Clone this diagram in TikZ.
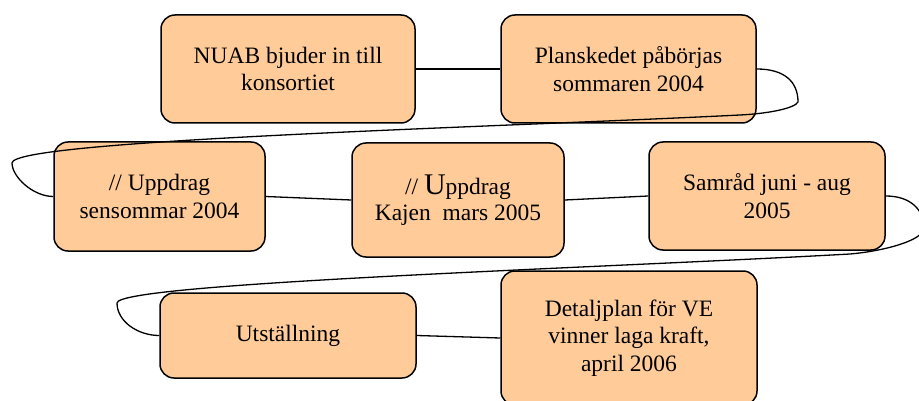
\documentclass[tikz,border=0pt]{standalone}
\usepackage{fontspec}
\setmainfont{Liberation Serif}
\definecolor{peach}{HTML}{FFCC99}
\tikzset{
  stepbox/.style={draw=black, line width=1.5pt, fill=peach, rounded corners=14pt,
    inner sep=0pt, align=center, font=\fontsize{23.5}{27.5}\selectfont},
  conn/.style={draw=black, line width=1.3pt}
}
\begin{document}
\begin{tikzpicture}[x=1pt,y=-1pt]
\useasboundingbox (0,0) rectangle (919,401);
\node[stepbox, minimum width=254pt, minimum height=108pt] (b1) at (288,69) {NUAB bjuder in till\\konsortiet};
\node[stepbox, minimum width=255pt, minimum height=108pt] (b2) at (628.5,69) {Planskedet påbörjas\\sommaren 2004};
\node[stepbox, minimum width=211pt, minimum height=109pt] (b3) at (159.5,196.5) {// Uppdrag\\sensommar 2004};
\node[stepbox, minimum width=212pt, minimum height=114pt] (b4) at (458,200) {// {\fontsize{30}{30}\selectfont U}ppdrag\\[-2pt]Kajen\ \ mars 2005};
\node[stepbox, minimum width=236pt, minimum height=108pt] (b5) at (767,196) {Samråd juni - aug\\2005};
\node[stepbox, minimum width=256pt, minimum height=85pt] (b6) at (288,335.5) {Utställning};
\node[stepbox, minimum width=256pt, minimum height=134pt] (b7) at (629,338) {Detaljplan för VE\\vinner laga kraft,\\april 2006};
\draw[conn] (b1.east) -- (b2.west);
\draw[conn] (b3.east) -- (b4.west);
\draw[conn] (b4.east) -- (b5.west);
\draw[conn] (b6.east) -- (b7.west);
\draw[conn] (b2.east) .. controls +(28,0) and +(0,-20) .. (798,102)
  .. controls +(-3,6) and +(30,-1.5) .. (740,115)
  .. controls +(-250,12.5) and +(0,-23) .. (12,163)
  .. controls +(0,14) and +(-20,0) .. (b3.west);
\draw[conn] (b5.east) .. controls +(25,0) and +(0,-18) .. (924,228)
  .. controls +(0,12) and +(35,-3) .. (850,254)
  .. controls +(-250,14) and +(0,-20) .. (117,303)
  .. controls +(0,18) and +(-22,0) .. (b6.west);
\end{tikzpicture}
\end{document}
